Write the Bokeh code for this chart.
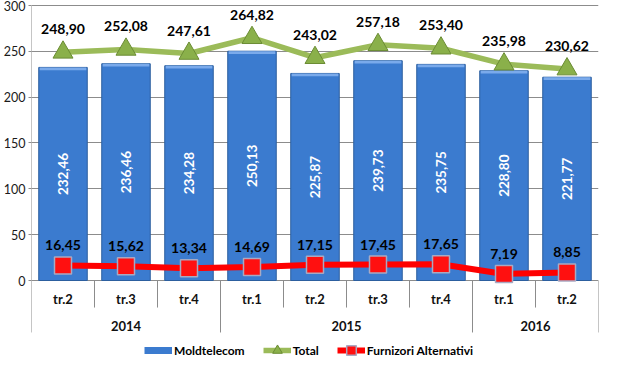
import numpy as np
from bokeh.plotting import figure
from bokeh.models import ColumnDataSource, FixedTicker, Range1d, Legend, LegendItem
from bokeh.core.properties import value
from bokeh.embed import file_html
from bokeh.resources import INLINE

# ---- data ----
quarters = ["tr.2", "tr.3", "tr.4", "tr.1", "tr.2", "tr.3", "tr.4", "tr.1", "tr.2"]
years = ["2014", "2015", "2016"]
quarters_per_year = [3, 4, 2]
moldtelecom = [232.46, 236.46, 234.28, 250.13, 225.87, 239.73, 235.75, 228.80, 221.77]
total = [248.90, 252.08, 247.61, 264.82, 243.02, 257.18, 253.40, 235.98, 230.62]
alternativi = [16.45, 15.62, 13.34, 14.69, 17.15, 17.45, 17.65, 7.19, 8.85]
y_ticks = [0, 50, 100, 150, 200, 250, 300]


def fmt(v):
    return f"{v:.2f}".replace(".", ",")


n = len(quarters)
xs = np.arange(n) + 0.5
m = np.array(moldtelecom)
src = ColumnDataSource(dict(
    x=xs, q=quarters,
    m=m, m_mid=m / 2, m_hl=m - 3.0, m_lbl=[fmt(v) for v in moldtelecom],
    t=total, t_lbl=[fmt(v) for v in total],
    a=alternativi, a_lbl=[fmt(v) for v in alternativi],
))

FONT = value("Lato")
GRID = "#8c8c8c"

p = figure(width=612, height=362, x_range=Range1d(0, n), y_range=Range1d(-89.45, 305.45),
           output_backend="svg", toolbar_location=None, x_axis_location=None,
           min_border_left=27, min_border_right=14, min_border_top=0, min_border_bottom=0,
           outline_line_color=None)
p.xgrid.visible = False
p.ygrid.grid_line_color = GRID
p.ygrid.grid_line_width = 1
ax = p.yaxis[0]
ax.ticker = FixedTicker(ticks=y_ticks)
ax.axis_line_color = None
ax.major_tick_line_color = GRID
ax.major_tick_out = 3
ax.major_tick_in = 0
ax.minor_tick_line_color = None
ax.major_label_standoff = 3
ax.major_label_text_font = "Lato"
ax.major_label_text_font_size = "12.5px"
ax.major_label_text_color = "#1a1a1a"

# category axis decorations
y_q_sep, y_y_sep = -29.5, -56.7
p.segment(x0=[0], y0=[300], x1=[0], y1=[y_y_sep], line_color=GRID, line_width=1)
year_bounds = np.cumsum(quarters_per_year)
short_x = [i for i in range(1, n) if i not in year_bounds]
p.segment(x0=short_x, y0=[0] * len(short_x), x1=short_x, y1=[y_q_sep] * len(short_x),
          line_color=GRID, line_width=1)
long_x = list(year_bounds)
p.segment(x0=long_x, y0=[0] * len(long_x), x1=long_x, y1=[y_y_sep] * len(long_x),
          line_color=GRID, line_width=1)
p.text(x="x", y=-20.7, text="q", source=src, text_font=FONT, text_font_style="bold",
       text_font_size="13px", text_align="center", text_baseline="middle", text_color="#111111")
year_starts = np.concatenate([[0], year_bounds[:-1]])
year_centers = (year_starts + year_bounds) / 2
p.text(x=year_centers, y=[-49.1] * len(years), text=years, text_font=FONT,
       text_font_style="bold", text_font_size="13px", text_align="center",
       text_baseline="middle", text_color="#111111")

# bars
BLUE = "#3b7bcf"
p.vbar(x="x", top="m", width=0.77, source=src, fill_color=BLUE, line_color="#2c5f9f", line_width=1)
p.vbar(x="x", top="m", bottom="m_hl", width=0.74, source=src, fill_color="#7aaaeb", line_color=None)
p.text(x="x", y="m_mid", text="m_lbl", source=src, angle=np.pi / 2, text_font=FONT,
       text_font_style="bold", text_font_size="13.5px", text_align="center",
       text_baseline="middle", text_color="white")

# total line
gline = p.line(x="x", y="t", source=src, line_color="#9bbb59", line_width=5.5)
gscat = p.scatter(x="x", y="t", source=src, marker="triangle", size=20,
                  fill_color="#8ab04a", line_color="#6b8c34", line_width=1)
p.text(x="x", y="t", text="t_lbl", source=src, y_offset=-23, text_font=FONT,
       text_font_style="bold", text_font_size="14px", text_align="center",
       text_baseline="middle", text_color="black")

# alternative providers line
rline = p.line(x="x", y="a", source=src, line_color="#ff0000", line_width=6)
rscat = p.scatter(x="x", y="a", source=src, marker="square", size=17,
                  fill_color="#ff1010", line_color="#a9a9c2", line_width=1.5)
p.text(x="x", y="a", text="a_lbl", source=src, y_offset=-20, text_font=FONT,
       text_font_style="bold", text_font_size="14px", text_align="center",
       text_baseline="middle", text_color="black")

# legend (proxy glyph for the bar series, placed outside the visible range)
proxy = p.line(x=[-10, -9], y=[-500, -500], line_color=BLUE, line_width=7)
legend = Legend(items=[
    LegendItem(label="Moldtelecom", renderers=[proxy]),
    LegendItem(label="Total", renderers=[gline, gscat]),
    LegendItem(label="Furnizori Alternativi", renderers=[rline, rscat]),
], orientation="horizontal", location=(113, 0), glyph_width=28, glyph_height=24,
    label_height=24, label_standoff=2, spacing=18, padding=0, margin=0,
    border_line_color=None, background_fill_alpha=0,
    label_text_font="Lato", label_text_font_style="bold", label_text_font_size="12px",
    label_text_color="black")
p.add_layout(legend)

open("out.html", "w").write(file_html(p, INLINE))
